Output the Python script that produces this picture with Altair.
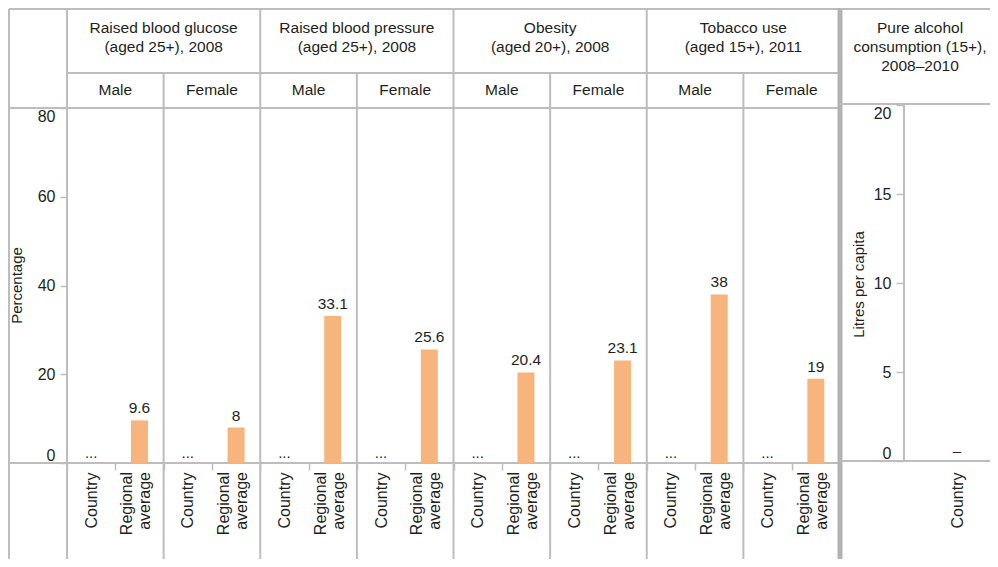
import altair as alt
import pandas as pd

# ---------------- data ----------------
indicator_titles = [
    "Raised blood glucose\n(aged 25+), 2008",
    "Raised blood pressure\n(aged 25+), 2008",
    "Obesity\n(aged 20+), 2008",
    "Tobacco use\n(aged 15+), 2011",
]
sexes = ["Male", "Female"]
bar_types = ["Country", "Regional average"]
regional_values = [9.6, 8, 33.1, 25.6, 20.4, 23.1, 38, 19]
country_values = [None, None, None, None, None, None, None, None]
missing_mark = "..."
pct_ticks = [0, 20, 40, 60, 80]

alcohol_title = "Pure alcohol\nconsumption (15+),\n2008\u20132010"
alcohol_types = ["Country"]
alcohol_values = [None]
alcohol_missing = "\u2013"
litre_ticks = [0, 5, 10, 15, 20]

# ---------------- tables ----------------
rows = []
for i, title in enumerate(indicator_titles):
    for j, sex in enumerate(sexes):
        k = i * 2 + j
        for t, v in zip(bar_types, [country_values[k], regional_values[k]]):
            rows.append(dict(key=f"{i}|{sex}|{t}", title=title, sex=sex, type=t,
                             tlabel=t.replace(" ", "\n"),
                             value=v, base=0,
                             label=(missing_mark if v is None else f"{v:g}")))
df = pd.DataFrame(rows)
keys = list(df["key"])

alc = pd.DataFrame(dict(key=alcohol_types, value=alcohol_values, base=[0],
                        label=[alcohol_missing if v is None else f"{v:g}" for v in alcohol_values],
                        title=[alcohol_title]))

FONT = "Liberation Sans"
LINE = "#bdbdbd"
TXT = "#231f20"
BAR = "#f7b47c"
FS = 15.5

W, H = 773, 355
TOP, H1, BOTTOM, LEFT = -99, -35, 452, -58

xs = alt.Scale(domain=keys, paddingInner=0, paddingOuter=0)
ys = alt.Scale(domain=[0, 80])

x_axis = alt.Axis(
    title=None, orient="bottom", domain=False, ticks=True, tickBand="extent",
    tickSize=7, tickColor=LINE, tickWidth=1.5, labelAngle=270, labelAlign="right",
    labelBaseline="middle", labelPadding=2, labelFontSize=16,
    labelColor=TXT, labelFont=FONT,
    labelExpr="split(datum.value, '|')[2] == 'Country' ? 'Country' : ''",
)
y_axis = alt.Axis(
    title="Percentage", orient="left", values=pct_ticks, domain=False, grid=False,
    tickSize=7, tickColor=LINE, tickWidth=1.5, labelFontSize=16, labelColor=TXT,
    labelFont=FONT, labelPadding=5, labelFlush=True,
    titleFont=FONT, titleFontSize=15, titleFontWeight="normal", titleColor=TXT,
    titleAngle=270, titleX=-51, titleY=177, titleAlign="center", titleBaseline="middle",
)


def X(**kw):
    return alt.X("key:N", scale=xs, sort=keys, axis=x_axis, **kw)


def Y(field):
    return alt.Y(field, scale=ys, axis=y_axis)


one = pd.DataFrame({"d": [0]})


def hline(y, x1, x2, w=2, c=LINE):
    return alt.Chart(one).mark_rule(color=c, strokeWidth=w).encode(
        x=alt.value(x1), x2=alt.value(x2), y=alt.value(y))


def vline(x, y1, y2, w=2, c=LINE):
    return alt.Chart(one).mark_rule(color=c, strokeWidth=w).encode(
        x=alt.value(x), y=alt.value(y1), y2=alt.value(y2))


present = df[df["value"].notna()]
missing = df[df["value"].isna()]

bars = alt.Chart(present).mark_bar(width=17, color=BAR).encode(
    x=X(), y=Y("value:Q"))
value_text = alt.Chart(present).mark_text(
    baseline="alphabetic", dy=-7, fontSize=FS, font=FONT, color=TXT).encode(
    x=X(), y=Y("value:Q"), text="label:N")
missing_text = alt.Chart(missing).mark_text(
    baseline="alphabetic", dy=-5, fontSize=15, font=FONT, color=TXT).encode(
    x=X(), y=Y("base:Q"), text="label:N")

# two-line category labels under the regional-average bars
reg_labels = alt.Chart(df[df["type"] == "Regional average"]).mark_text(
    angle=270, align="right", baseline="line-bottom", lineBreak="\n", lineHeight=18,
    dy=-3, fontSize=16, font=FONT, color=TXT).encode(
    x=X(), y=alt.value(H + 9), text="tlabel:N")

sex_head = alt.Chart(df[df["type"] == "Regional average"]).mark_text(
    baseline="middle", fontSize=FS, font=FONT, color=TXT).encode(
    x=X(bandPosition=0), y=alt.value(-18), text="sex:N")
ind_head = alt.Chart(df[(df["type"] == "Country") & (df["sex"] == "Female")]).mark_text(
    baseline="middle", fontSize=FS, font=FONT, color=TXT, lineBreak="\n", lineHeight=19).encode(
    x=X(bandPosition=0), y=alt.value(-80), text="title:N")

group_lines = alt.Chart(df[(df["type"] == "Country") & (df["sex"] == "Male")]).mark_rule(
    color=LINE, strokeWidth=2).encode(
    x=X(bandPosition=0), y=alt.value(TOP), y2=alt.value(BOTTOM))
sex_lines = alt.Chart(df[(df["type"] == "Country") & (df["sex"] == "Female")]).mark_rule(
    color=LINE, strokeWidth=2).encode(
    x=X(bandPosition=0), y=alt.value(H1), y2=alt.value(BOTTOM))
end_line = alt.Chart(df.tail(1)).mark_rule(color="#b3b3b3", strokeWidth=5).encode(
    x=X(bandPosition=1), y=alt.value(-100), y2=alt.value(BOTTOM))

main = alt.layer(
    hline(TOP, LEFT, W), hline(H1, 0, W), hline(0, LEFT - 1, W), hline(H, LEFT - 1, W),
    vline(LEFT, TOP, BOTTOM),
    group_lines, sex_lines, end_line, bars, value_text, missing_text, reg_labels,
    sex_head, ind_head,
)

# ---------------- alcohol panel ----------------
axs = alt.Scale(domain=alcohol_types, range=[837, 943], paddingInner=0, paddingOuter=0)
ays = alt.Scale(domain=[0, 20], range=[353, -3])

alc_x_axis = alt.Axis(
    title=None, orient="bottom", domain=False, ticks=False, labelAngle=270,
    labelAlign="right", labelBaseline="middle", labelPadding=9, labelFontSize=16,
    labelColor=TXT, labelFont=FONT)
alc_y_axis = alt.Axis(
    title="Litres per capita", orient="left", offset=-837, values=litre_ticks,
    domain=False, grid=False, tickSize=8, tickColor=LINE, tickWidth=1.5,
    labelFontSize=16, labelColor=TXT, labelFont=FONT, labelPadding=5,
    labelFlush=True,
    titleFont=FONT, titleFontSize=15, titleFontWeight="normal", titleColor=TXT,
    titleAngle=270, titleX=-46, titleY=176, titleAlign="center", titleBaseline="middle")

alc_missing = alt.Chart(alc).mark_text(
    baseline="alphabetic", dy=-5, fontSize=15, font=FONT, color=TXT).encode(
    x=alt.X("key:N", scale=axs, axis=alc_x_axis),
    y=alt.Y("base:Q", scale=ays, axis=alc_y_axis),
    text="label:N")
alc_head = alt.Chart(alc).mark_text(
    baseline="middle", fontSize=FS, font=FONT, color=TXT, lineBreak="\n", lineHeight=19).encode(
    x=alt.value(853), y=alt.value(-80), text="title:N")

alcohol = alt.layer(
    hline(TOP, W, 940), hline(-4, W, 940), hline(353, W, 940),
    vline(837, -4, 353), alc_head, alc_missing,
)

chart = alt.layer(main, alcohol).resolve_scale(
    x="independent", y="independent").properties(
    width=W, height=H, padding={"left": 59, "top": 100, "right": 150, "bottom": 96},
    autosize="none",
).configure_view(stroke=None).configure(font=FONT)

chart.save("out.html", embed_options={"renderer": "svg", "actions": False})
